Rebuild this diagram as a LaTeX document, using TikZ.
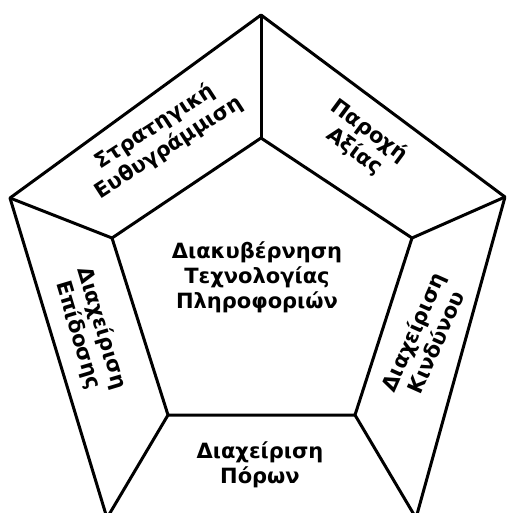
\documentclass[tikz,border=0pt]{standalone}
\usepackage{fontspec}
\setmainfont{DejaVu Sans}
\begin{document}
\begin{tikzpicture}[x=1pt,y=-1pt,
  edge/.style={line width=3pt, line join=round},
  lbl/.style={font=\bfseries\fontsize{21}{25}\selectfont, align=center, text=black, inner sep=0pt}]
\useasboundingbox (0,0) rectangle (506,513);
\clip (0,0) rectangle (506,513);
% outer vertices
\coordinate (OT) at (261,15);
\coordinate (OR) at (505,197);
\coordinate (OBR) at (416,518);
\coordinate (OBL) at (107,518);
\coordinate (OL) at (10,198);
% inner vertices
\coordinate (IT) at (261,138);
\coordinate (IR) at (412,238);
\coordinate (IBR) at (355,415);
\coordinate (IBL) at (168,415);
\coordinate (IL) at (112,238);
\draw[edge] (OT) -- (OR) -- (OBR) -- (OBL) -- (OL) -- cycle;
\draw[edge] (IT) -- (IR) -- (IBR) -- (IBL) -- (IL) -- cycle;
\draw[edge] (OT) -- (IT);
\draw[edge] (OR) -- (IR);
\draw[edge] (OBR) -- (IBR);
\draw[edge] (OBL) -- (IBL);
\draw[edge] (OL) -- (IL);
% labels
\node[lbl] (center) at (257,277) {Διακυβέρνηση\\Τεχνολογίας\\Πληροφοριών};
\node[lbl, rotate=33] (strat) at (162,137) {Στρατηγική\\Ευθυγράμμιση};
\node[lbl, rotate=-36.5] (value) at (362,141) {Παροχή\\Αξίας};
\node[lbl, rotate=-73.3] (perf) at (90,332) {Διαχείριση\\Επίδοσης};
\node[lbl, rotate=66] (risk) at (424,337) {Διαχείριση\\Κινδύνου};
\node[lbl] (res) at (260,465) {Διαχείριση\\Πόρων};
\end{tikzpicture}
\end{document}
